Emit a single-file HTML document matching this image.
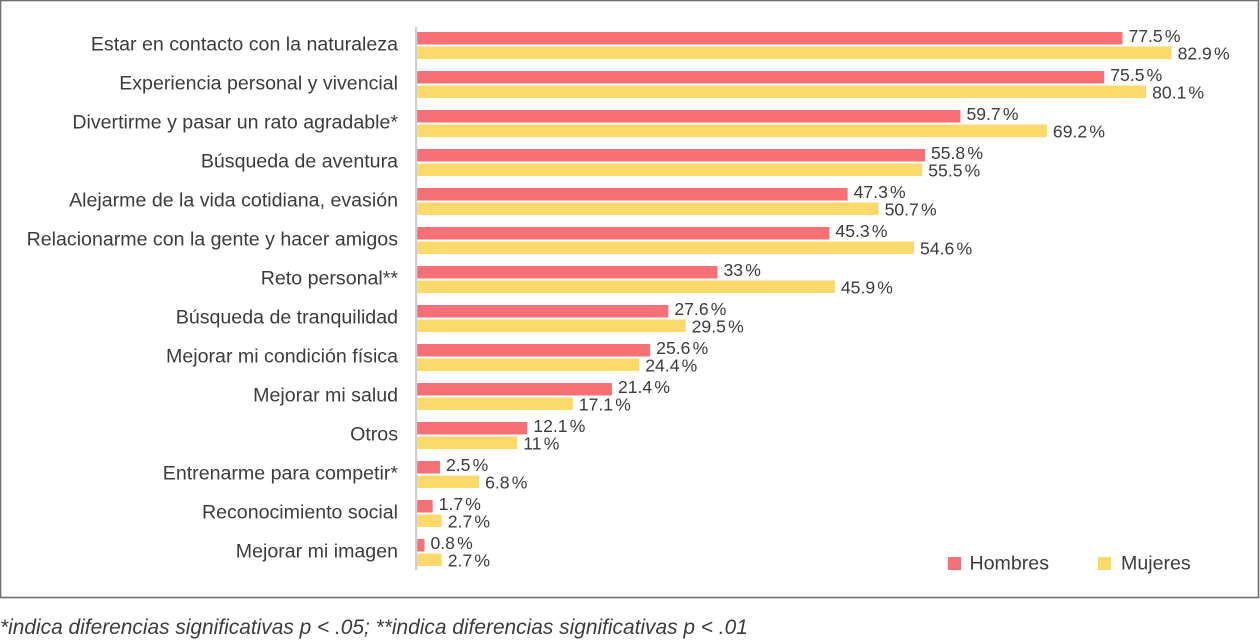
<!DOCTYPE html>
<html lang="es">
<head>
<meta charset="utf-8">
<title>Motivaciones</title>
<style>
html,body{margin:0;padding:0;background:#fff;width:1260px;height:640px;overflow:hidden}
svg{display:block}
text{font-family:"Liberation Sans",sans-serif;fill:#3c3c3c}
</style>
</head>
<body>
<svg id="chart" width="1260" height="640" viewBox="0 0 1260 640" xmlns="http://www.w3.org/2000/svg">
  <rect x="0.5" y="0.5" width="1258" height="597" fill="#fff" stroke="#707070" stroke-width="1.6"/>
  <rect x="415" y="27" width="2.2" height="543" fill="#cdcfcf"/>
  <g id="marks"></g>
  <g>
    <rect x="948" y="557" width="13" height="13" fill="#f77075"/>
    <text x="969.5" y="569.5" font-size="19.6">Hombres</text>
    <rect x="1098" y="557" width="13" height="13" fill="#fbd96b"/>
    <text x="1121" y="569.5" font-size="19.6">Mujeres</text>
  </g>
  <text x="0" y="634" font-size="20.9" font-style="italic">*indica diferencias significativas p &lt; .05; **indica diferencias significativas p &lt; .01</text>
</svg>
<script>
const categories = ["Estar en contacto con la naturaleza","Experiencia personal y vivencial","Divertirme y pasar un rato agradable*","Búsqueda de aventura","Alejarme de la vida cotidiana, evasión","Relacionarme con la gente y hacer amigos","Reto personal**","Búsqueda de tranquilidad","Mejorar mi condición física","Mejorar mi salud","Otros","Entrenarme para competir*","Reconocimiento social","Mejorar mi imagen"];
const hombres = [77.5,75.5,59.7,55.8,47.3,45.3,33,27.6,25.6,21.4,12.1,2.5,1.7,0.8];
const mujeres = [82.9,80.1,69.2,55.5,50.7,54.6,45.9,29.5,24.4,17.1,11,6.8,2.7,2.7];

const NS = "http://www.w3.org/2000/svg";
const marks = document.getElementById("marks");
function xScale(v){ return 417.2 + v * 9.1; }
function rowTop(i){ return 32 + i * 39; }

function drawBar(v, y, color, name, baselineOffset){
  const r = document.createElementNS(NS, "rect");
  r.setAttribute("x", xScale(0));
  r.setAttribute("y", y);
  r.setAttribute("width", xScale(v) - xScale(0));
  r.setAttribute("height", 12.5);
  r.setAttribute("fill", color);
  
  
  marks.appendChild(r);
  const t = document.createElementNS(NS, "text");
  t.setAttribute("x", xScale(v) + 6);
  t.setAttribute("y", y + baselineOffset);
  t.setAttribute("font-size", "17.6");
  t.setAttribute("word-spacing", "-2.7");
  t.textContent = v + " %";
  
  
  marks.appendChild(t);
}

categories.forEach(function(c, i){
  const top = rowTop(i);
  const label = document.createElementNS(NS, "text");
  label.setAttribute("x", 398);
  label.setAttribute("y", top + 18.5);
  label.setAttribute("text-anchor", "end");
  label.setAttribute("font-size", "19.6");
  label.textContent = c;
  
  
  marks.appendChild(label);
  drawBar(hombres[i], top, "#f77075", "bar-hombres", 10.2);
  drawBar(mujeres[i], top + 14.5, "#fbd96b", "bar-mujeres", 12.8);
});
</script>
</body>
</html>
